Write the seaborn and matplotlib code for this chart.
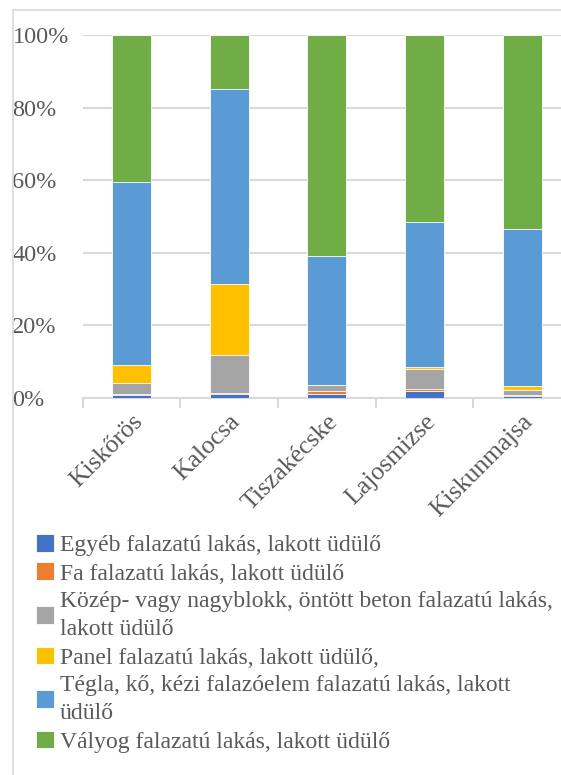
import matplotlib
matplotlib.use("Agg")
import matplotlib.pyplot as plt
import seaborn as sns
import numpy as np
import pandas as pd
from matplotlib.patches import Patch
from matplotlib.lines import Line2D
from matplotlib.ticker import PercentFormatter

cities = ["Kiskőrös", "Kalocsa", "Tiszakécske", "Lajosmizse", "Kiskunmajsa"]
series_names = [
    "Egyéb falazatú lakás, lakott üdülő",
    "Fa falazatú lakás, lakott üdülő",
    "Közép- vagy nagyblokk, öntött beton falazatú lakás,\nlakott üdülő",
    "Panel falazatú lakás, lakott üdülő,",
    "Tégla, kő, kézi falazóelem falazatú lakás, lakott\nüdülő",
    "Vályog falazatú lakás, lakott üdülő",
]
egyeb = [0.8, 1.2, 1.2, 2.0, 0.7]
fa = [0.3, 0.1, 0.7, 0.6, 0.2]
kozep = [3.0, 10.5, 1.7, 5.4, 1.3]
panel = [5.0, 19.7, 0.0, 0.7, 1.0]
tegla = [50.3, 53.5, 35.5, 39.9, 43.4]
valyog = [40.6, 15.0, 60.9, 51.4, 53.4]
colors = ["#4472C4", "#ED7D31", "#A5A5A5", "#FFC000", "#5B9BD5", "#70AD47"]

series = [egyeb, fa, kozep, panel, tegla, valyog]
cum = np.cumsum(np.array(series), axis=0)

sns.set_theme(style="white")
plt.rcParams["font.family"] = ["Liberation Serif", "DejaVu Serif"]

fig = plt.figure(figsize=(5.61, 7.75), dpi=100)
ax = fig.add_axes([82.5 / 561, 1 - 398.1 / 775, 488.5 / 561, 363.1 / 775])

for i in range(len(series) - 1, -1, -1):
    df = pd.DataFrame({"city": cities, "val": cum[i]})
    sns.barplot(data=df, x="city", y="val", color=colors[i], width=0.4,
                edgecolor="white", linewidth=0.6, ax=ax, saturation=1, zorder=3)

ax.set_xlim(-0.5, 4.5)
ax.set_ylim(0, 100)
ax.set_yticks([0, 20, 40, 60, 80, 100])
ax.yaxis.set_major_formatter(PercentFormatter(decimals=0))
ax.grid(axis="y", color="#D9D9D9", linewidth=1.5, zorder=0)
ax.set_axisbelow(True)
for s in ["top", "right", "left"]:
    ax.spines[s].set_visible(False)
ax.spines["bottom"].set_color("#D9D9D9")
ax.spines["bottom"].set_linewidth(1.5)
ax.set_xlabel("")
ax.set_ylabel("")

# y tick labels left aligned
ax.tick_params(axis="y", length=0, pad=50.5, labelsize=17.5, labelcolor="#595959")
for lab in ax.get_yticklabels():
    lab.set_horizontalalignment("left")

# x ticks: minor ticks at category boundaries
ax.set_xticks(np.arange(-0.5, 5.0, 1.0), minor=True)
ax.tick_params(axis="x", which="minor", length=7, width=1.5, color="#D9D9D9", direction="out")
ax.tick_params(axis="x", which="major", length=0, pad=9, labelsize=18.5, labelcolor="#595959")
ax.xaxis.set_ticks_position("bottom")
for lab in ax.get_xticklabels():
    lab.set_rotation(45)
    lab.set_horizontalalignment("right")
    lab.set_rotation_mode("anchor")

# chart border
fig.add_artist(Line2D([13 / 561, 13 / 561], [0, 1 - 10 / 775], color="#D9D9D9", linewidth=1.2, transform=fig.transFigure))
fig.add_artist(Line2D([13 / 561, 1], [1 - 10 / 775, 1 - 10 / 775], color="#D9D9D9", linewidth=1.2, transform=fig.transFigure))

handles = [Patch(facecolor=c, edgecolor="white", linewidth=0.6) for c in colors]
leg = fig.legend(handles, series_names, loc="upper left",
                 bbox_to_anchor=(36 / 561, 1 - 534 / 775), frameon=False,
                 fontsize=17, labelcolor="#595959", handlelength=0.78, handleheight=0.78,
                 handletextpad=0.22, labelspacing=0.27, borderpad=0, borderaxespad=0)
for t in leg.get_texts():
    t.set_linespacing(1.45)

fig.savefig("out.png", dpi=100)
